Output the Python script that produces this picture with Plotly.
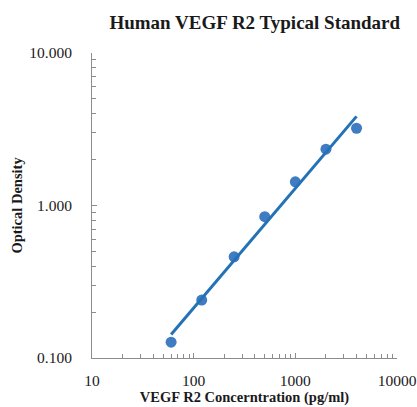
import numpy as np
import plotly.graph_objects as go

concentration = [60, 120, 250, 500, 1000, 2000, 4000]
optical_density = [0.127, 0.240, 0.461, 0.845, 1.43, 2.34, 3.21]

x_tick_vals = [10, 100, 1000, 10000]
x_tick_text = ["10", "100", "1000", "10000"]
y_tick_vals = [0.1, 1, 10]
y_tick_text = ["0.100", "1.000", "10.000"]

# power-law trendline (least squares in log-log space)
lx = np.log10(concentration)
ly = np.log10(optical_density)
slope, intercept = np.polyfit(lx, ly, 1)
fit_x = [concentration[0], concentration[-1]]
fit_y = [10 ** (intercept + slope * np.log10(v)) for v in fit_x]

serif = "Liberation Serif, Times New Roman, serif"
axis_grey = "#8c8c8c"
text_col = "#1a1a1a"

fig = go.Figure()
fig.add_trace(go.Scatter(
    x=concentration, y=optical_density, mode="markers",
    marker=dict(color="#3f7cc2", size=11),
    showlegend=False,
))
fig.add_trace(go.Scatter(
    x=fit_x, y=fit_y, mode="lines",
    line=dict(color="#2472b6", width=3),
    showlegend=False,
))

fig.update_layout(
    width=417, height=407,
    margin=dict(l=92, r=20, t=53, b=49, autoexpand=False),
    paper_bgcolor="white", plot_bgcolor="white",
    title=dict(text="<b>Human VEGF R2 Typical Standard</b>",
               font=dict(family=serif, size=19, color=text_col),
               x=0.611, xanchor="center", y=0.946, yanchor="middle"),
    font=dict(family=serif, color=text_col),
)
fig.update_xaxes(
    type="log", range=[1, 4], automargin=False,
    tickmode="array", tickvals=x_tick_vals, ticktext=x_tick_text,
    ticks="inside", ticklen=5, tickcolor=axis_grey,
    minor=dict(ticks="inside", ticklen=4, tickcolor=axis_grey, dtick="D1", showgrid=False),
    showline=True, linecolor=axis_grey, linewidth=1,
    showgrid=False, zeroline=False,
    tickfont=dict(family=serif, size=15.5, color=text_col),
    ticklabelstandoff=8, ticklabeloverflow="allow",
    title=dict(text="<b>VEGF R2 Concerntration (pg/ml)</b>",
               font=dict(family=serif, size=14.5, color=text_col), standoff=2),
)
fig.update_yaxes(
    type="log", range=[-1, 1], automargin=False,
    tickmode="array", tickvals=y_tick_vals, ticktext=y_tick_text,
    ticks="inside", ticklen=5, tickcolor=axis_grey,
    minor=dict(ticks="inside", ticklen=4, tickcolor=axis_grey, dtick="D1", showgrid=False),
    showline=True, linecolor=axis_grey, linewidth=1,
    showgrid=False, zeroline=False,
    tickfont=dict(family=serif, size=15.5, color=text_col),
    ticklabelstandoff=16, ticklabeloverflow="allow",
    title=dict(text="<b>Optical Density</b>",
               font=dict(family=serif, size=14.5, color=text_col), standoff=3),
)

fig.write_html("out.html",
               config={"displayModeBar": False},
               post_script="document.body.style.margin='0';document.body.style.padding='0';")
